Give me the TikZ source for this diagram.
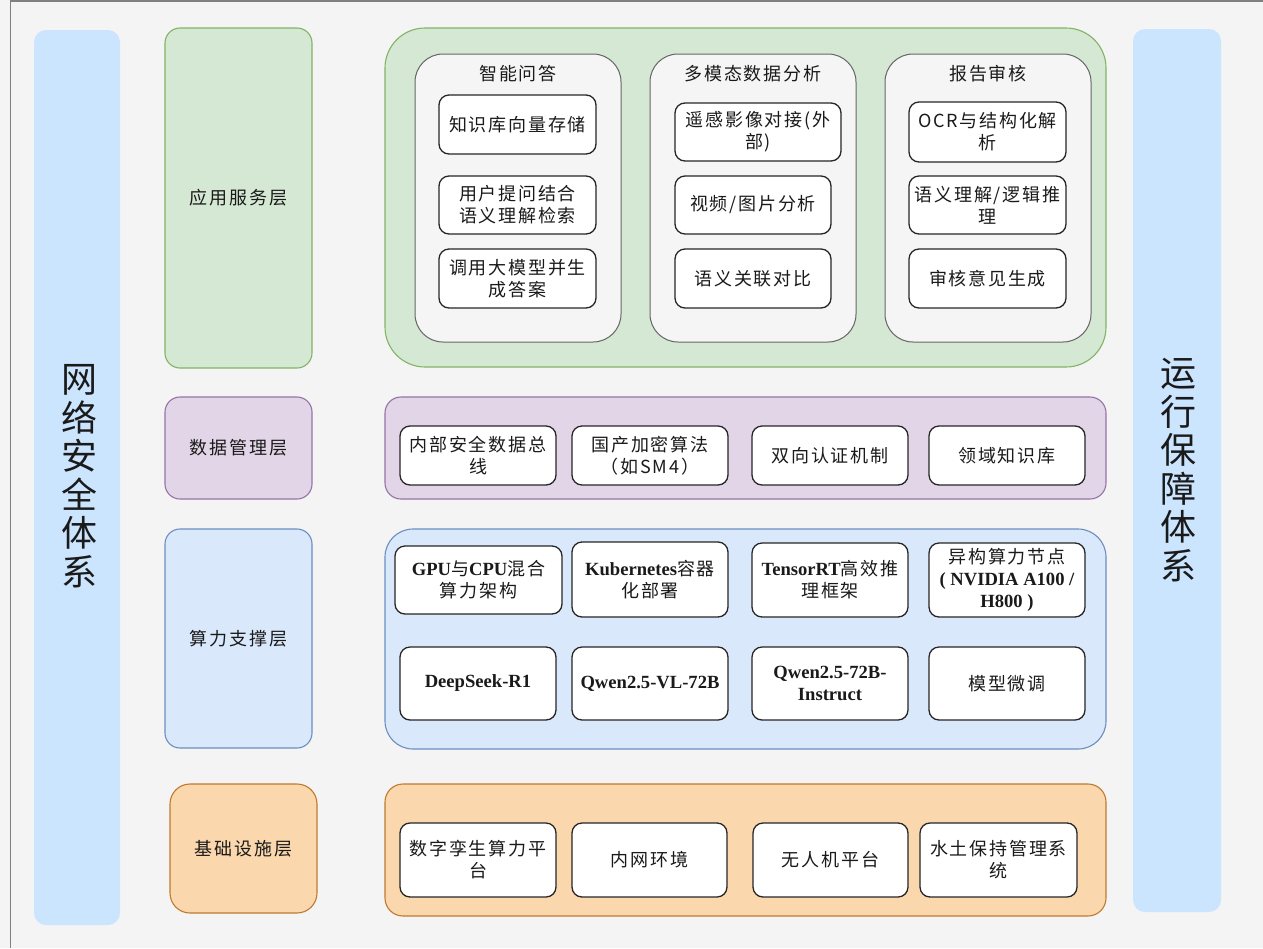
\documentclass[tikz,border=0pt]{standalone}
\usepackage{fontspec}
\setmainfont{Noto Sans CJK SC}
\newfontfamily\cjk{Noto Sans CJK SC}[LetterSpace=10]
\newfontfamily\cjkv{Noto Sans CJK SC}
\newfontfamily\lat{Liberation Serif}
\newcommand\LB[1]{{\lat\bfseries\fontsize{18.6}{22}\selectfont #1}}
\definecolor{bgc}{HTML}{F4F4F4}
\definecolor{framec}{HTML}{808080}
\definecolor{barblue}{HTML}{CCE5FF}
\definecolor{gfill}{HTML}{D5E8D4}
\definecolor{gline}{HTML}{82B366}
\definecolor{pfill}{HTML}{E1D5E7}
\definecolor{pline}{HTML}{9673A6}
\definecolor{bfill}{HTML}{DAE8FC}
\definecolor{bline}{HTML}{6C8EBF}
\definecolor{ofill}{HTML}{FAD7AC}
\definecolor{oline}{HTML}{C07A2F}
\definecolor{grpfill}{HTML}{F5F5F5}
\definecolor{grpline}{HTML}{666666}
\definecolor{txt}{HTML}{1A1A1A}
\begin{document}
\begin{tikzpicture}[x=1pt,y=-1pt,
  every node/.style={inner sep=0pt, outer sep=0pt, text=txt},
  vbar/.style={fill=barblue, draw=none, rounded corners=12pt},
  vtext/.style={font=\cjkv\fontsize{36}{38.5}\selectfont, align=center},
  lbl/.style={rounded corners=15pt, line width=1.1pt, font=\cjk\fontsize{18}{22}\selectfont},
  cont/.style={line width=1.1pt},
  grp/.style={fill=grpfill, draw=grpline, line width=1pt, rounded corners=28pt},
  ttl/.style={font=\cjk\fontsize{18}{22}\selectfont},
  item/.style={fill=white, draw=black!85, line width=1.3pt, rounded corners=10pt,
    align=center, font=\cjk\fontsize{18}{22}\selectfont},
  green/.style={fill=gfill, draw=gline},
  purple/.style={fill=pfill, draw=pline},
  blue/.style={fill=bfill, draw=bline},
  orange/.style={fill=ofill, draw=oline}
]
\useasboundingbox (0,0) rectangle (1263,948);
\fill[bgc] (0,0) rectangle (1263,948);
\coordinate (ftop) at (1263,1);
\coordinate (fcorner) at (10.5,1);
\coordinate (fbot) at (10.5,948);
\draw[framec, line width=1.6pt] (ftop) -- (fcorner) -- (fbot);

% side bars
\node[vbar, minimum width=86pt, minimum height=895pt] (lbar) at (77,477.5) {};
\node[vtext] (ltext) at (79,476) {网\\络\\安\\全\\体\\系};
\node[vbar, minimum width=88pt, minimum height=883pt] (rbar) at (1177,470.5) {};
\node[vtext] (rtext) at (1178,470) {运\\行\\保\\障\\体\\系};

% application layer
\node[lbl, green, minimum width=147pt, minimum height=340pt] (applbl) at (238.5,198) {应用服务层};
\node[cont, green, rounded corners=40pt, minimum width=721pt, minimum height=339pt] (appc) at (745.5,197.5) {};
\node[grp, minimum width=206pt, minimum height=288pt] (g1) at (518,198) {};
\node[grp, minimum width=206pt, minimum height=288pt] (g2) at (753,198) {};
\node[grp, minimum width=206pt, minimum height=288pt] (g3) at (988,198) {};
\node[ttl] (t1) at (518,74) {智能问答};
\node[ttl] (t2) at (753,74) {多模态数据分析};
\node[ttl] (t3) at (988,74) {报告审核};
\node[item, minimum width=157pt, minimum height=59pt] (a11) at (517.5,124.5) {知识库向量存储};
\node[item, minimum width=157pt, minimum height=58pt] (a12) at (517.5,205) {用户提问结合\\语义理解检索};
\node[item, minimum width=157pt, minimum height=59pt] (a13) at (517.5,278.5) {调用大模型并生\\成答案};
\node[item, minimum width=166pt, minimum height=58pt] (a21) at (758,132) {遥感影像对接(外\\部)};
\node[item, minimum width=156pt, minimum height=58pt] (a22) at (753,205) {视频/图片分析};
\node[item, minimum width=156pt, minimum height=59pt] (a23) at (753,278.5) {语义关联对比};
\node[item, minimum width=157pt, minimum height=60pt] (a31) at (987.5,132) {OCR与结构化解\\析};
\node[item, minimum width=157pt, minimum height=58pt] (a32) at (987.5,205) {语义理解/逻辑推\\理};
\node[item, minimum width=157pt, minimum height=59pt] (a33) at (987.5,278.5) {审核意见生成};

% data layer
\node[lbl, purple, minimum width=147pt, minimum height=102pt] (datlbl) at (238.5,448) {数据管理层};
\node[cont, purple, rounded corners=16pt, minimum width=721pt, minimum height=102pt] (datc) at (745.5,448) {};
\node[item, minimum width=156pt, minimum height=59pt] (d1) at (478,455.5) {内部安全数据总\\线};
\node[item, minimum width=156pt, minimum height=59pt] (d2) at (650,455.5) {国产加密算法\\（如SM4）};
\node[item, minimum width=156pt, minimum height=59pt] (d3) at (830,455.5) {双向认证机制};
\node[item, minimum width=156pt, minimum height=59pt] (d4) at (1007,455.5) {领域知识库};

% compute layer
\node[lbl, blue, minimum width=147pt, minimum height=219pt] (cmplbl) at (238.5,638.5) {算力支撑层};
\node[cont, blue, rounded corners=28pt, minimum width=721pt, minimum height=220pt] (cmpc) at (745.5,639) {};
\node[item, minimum width=167pt, minimum height=68pt] (c11) at (478.5,580) {\LB{GPU}与\LB{CPU}混合\\算力架构};
\node[item, minimum width=156pt, minimum height=75pt] (c12) at (650,579.5) {\LB{Kubernetes}容器\\化部署};
\node[item, minimum width=156pt, minimum height=74pt] (c13) at (830,580) {\LB{TensorRT}高效推\\理框架};
\node[item, minimum width=156pt, minimum height=74pt] (c14) at (1007,580) {异构算力节点\\\LB{( NVIDIA A100 /}\\\LB{H800 )}};
\node[item, minimum width=156pt, minimum height=73pt] (c21) at (478,683.5) {\LB{DeepSeek-R1}};
\node[item, minimum width=156pt, minimum height=73pt] (c22) at (650,683.5) {\LB{Qwen2.5-VL-72B}};
\node[item, minimum width=156pt, minimum height=73pt] (c23) at (830,683.5) {\LB{Qwen2.5-72B-}\\\LB{Instruct}};
\node[item, minimum width=156pt, minimum height=73pt] (c24) at (1007,683.5) {模型微调};

% infrastructure layer
\node[lbl, orange, rounded corners=20pt, minimum width=147pt, minimum height=129pt] (inflbl) at (243.5,848.5) {基础设施层};
\node[cont, orange, rounded corners=18pt, minimum width=721pt, minimum height=132pt] (infc) at (745.5,850) {};
\node[item, minimum width=156pt, minimum height=74pt] (i1) at (478,860) {数字孪生算力平\\台};
\node[item, minimum width=155pt, minimum height=74pt] (i2) at (649.5,860) {内网环境};
\node[item, minimum width=155pt, minimum height=74pt] (i3) at (830.5,860) {无人机平台};
\node[item, minimum width=157pt, minimum height=74pt] (i4) at (998.5,860) {水土保持管理系\\统};
\end{tikzpicture}
\end{document}
